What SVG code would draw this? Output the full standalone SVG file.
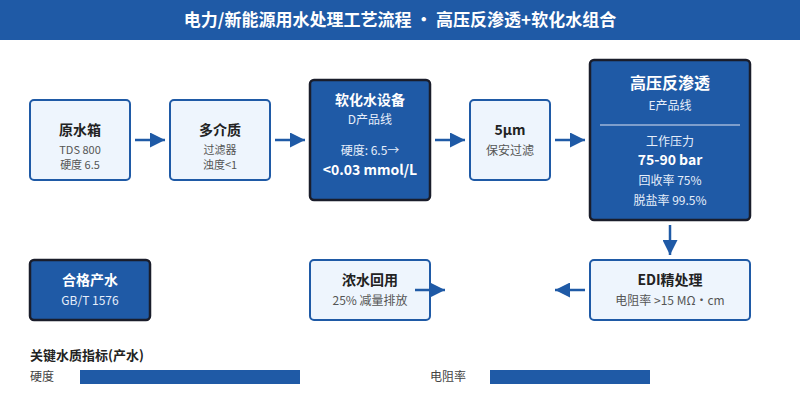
<svg xmlns="http://www.w3.org/2000/svg" width="800" height="400" viewBox="0 0 800 400">
<style>
text{font-family:"Noto Sans CJK SC","Noto Sans",sans-serif}
.lt{fill:#eef5fd;stroke:#1f5aa6;stroke-width:2}
.dk{fill:#1f5aa6;stroke:#1a1d2b;stroke-width:2.5}
.t{font-size:14px;font-weight:bold;fill:#222;text-anchor:middle}
.s{font-size:12px;fill:#555;text-anchor:middle}
.s2{font-size:11px;fill:#555;text-anchor:middle}
.tw{font-size:14px;font-weight:bold;fill:#fff;text-anchor:middle}
.sw{font-size:12px;fill:#e6eefa;text-anchor:middle}
.c{stroke:#1f5aa6;stroke-width:2.5;fill:none}
</style>
<defs><marker id="a" viewBox="0 0 10 10" refX="10" refY="5" markerWidth="6" markerHeight="6" orient="auto"><path d="M0,0L10,5L0,10z" fill="#1f5aa6"/></marker></defs>
<rect width="800" height="40" fill="#1f5aa6"/>
<text x="400" y="26" font-size="17" font-weight="bold" fill="#fff" text-anchor="middle">电力/新能源用水处理工艺流程 · 高压反渗透+软化水组合</text>
<g id="n1"><rect class="lt" x="30" y="100" width="100" height="80" rx="4"/><text class="t" x="80" y="135">原水箱</text><text class="s2" x="80" y="154">TDS 800</text><text class="s2" x="80" y="169">硬度 6.5</text></g>
<g id="n2"><rect class="lt" x="170" y="100" width="100" height="80" rx="4"/><text class="t" x="220" y="135">多介质</text><text class="s2" x="220" y="154">过滤器</text><text class="s2" x="220" y="169">浊度&lt;1</text></g>
<g id="n3"><rect class="dk" x="310" y="80" width="120" height="120" rx="4"/><text class="tw" x="370" y="105">软化水设备</text><text class="sw" x="370" y="124">D产品线</text><text class="sw" x="370" y="155">硬度: 6.5→</text><text class="tw" x="370" y="175">&lt;0.03 mmol/L</text></g>
<g id="n4"><rect class="lt" x="470" y="100" width="80" height="80" rx="4"/><text class="t" x="510" y="135">5μm</text><text class="s" x="510" y="155">保安过滤</text></g>
<g id="n5"><rect class="dk" x="590" y="60" width="160" height="160" rx="4"/><text x="670" y="89" font-size="16" font-weight="bold" fill="#fff" text-anchor="middle">高压反渗透</text><text class="sw" x="670" y="110">E产品线</text><line x1="600" y1="125" x2="740" y2="125" stroke="#9fb6d8" stroke-width="1.5"/><text class="sw" x="670" y="146">工作压力</text><text class="tw" x="670" y="165">75-90 bar</text><text class="sw" x="670" y="185">回收率 75%</text><text class="sw" x="670" y="205">脱盐率 99.5%</text></g>
<g id="n6"><rect class="lt" x="590" y="260" width="160" height="60" rx="4"/><text class="t" x="670" y="285">EDI精处理</text><text class="s" x="670" y="305">电阻率 &gt;15 MΩ・cm</text></g>
<g id="n7"><rect class="lt" x="310" y="260" width="120" height="60" rx="4"/><text class="t" x="370" y="285">浓水回用</text><text class="s" x="370" y="305">25% 减量排放</text></g>
<g id="n8"><rect class="dk" x="30" y="260" width="120" height="60" rx="4"/><text class="tw" x="90" y="285">合格产水</text><text class="sw" x="90" y="305">GB/T 1576</text></g>
<g id="edges">
<line class="c" x1="135" y1="140" x2="165" y2="140" marker-end="url(#a)"/>
<line class="c" x1="275" y1="140" x2="305" y2="140" marker-end="url(#a)"/>
<line class="c" x1="435" y1="140" x2="465" y2="140" marker-end="url(#a)"/>
<line class="c" x1="555" y1="140" x2="585" y2="140" marker-end="url(#a)"/>
<line class="c" x1="670" y1="225" x2="670" y2="255" marker-end="url(#a)"/>
<line class="c" x1="585" y1="290" x2="555" y2="290" marker-end="url(#a)"/>
<line class="c" x1="415" y1="290" x2="445" y2="290" marker-end="url(#a)"/>
</g>
<text x="30" y="360" font-size="13" font-weight="bold" fill="#222">关键水质指标(产水)</text>
<text x="30" y="381" font-size="12" fill="#444">硬度</text>
<rect x="80" y="370" width="220" height="14" fill="#1f5aa6"/>
<text x="430" y="381" font-size="12" fill="#444">电阻率</text>
<rect x="490" y="370" width="160" height="14" fill="#1f5aa6"/>
</svg>
